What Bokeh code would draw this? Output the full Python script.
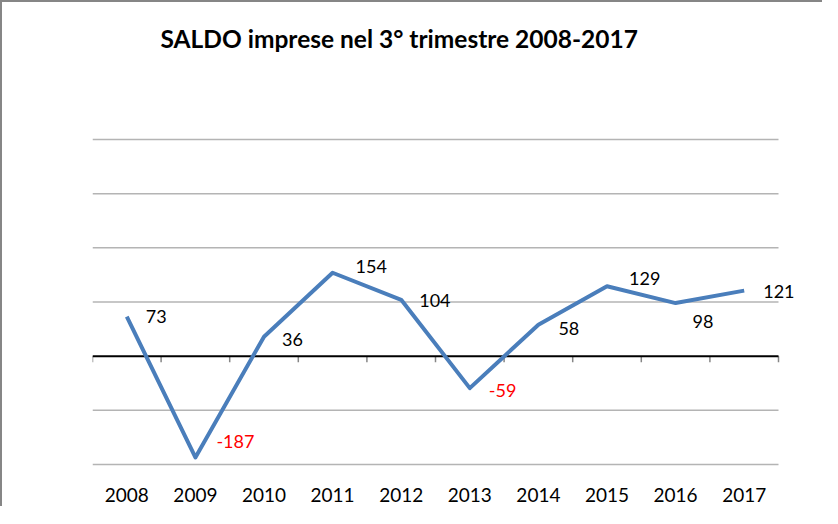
from bokeh.plotting import figure
from bokeh.models import Range1d, FixedTicker, ColumnDataSource, LabelSet, Label
from bokeh.core.properties import value
from bokeh.embed import file_html
from bokeh.resources import INLINE

# ---- data ----
years = ["2008", "2009", "2010", "2011", "2012", "2013", "2014", "2015", "2016", "2017"]
saldo = [73, -187, 36, 154, 104, -59, 58, 129, 98, 121]
grid_values = [-200, -100, 100, 200, 300, 400]

# label placement (pixels; positive dy = up)
label_dx = [19, 21, 18, 23, 18, 19, 20, 22, 17, 19]
label_dy = [0, 16, -3, 6, -1, -2, -4, 8, -18, -1]

FONT = "Lato"
n = len(years)
xs = [i + 0.5 for i in range(n)]

src = ColumnDataSource(dict(
    x=xs, y=saldo,
    label=[str(v) for v in saldo],
    color=["#ff0000" if v < 0 else "#000000" for v in saldo],
    dx=label_dx, dy=label_dy,
))

# layout (pixels)
W, H = 822, 506
ML, MB = 90, 42
plot_w = 686               # width of the category area
px_per_cat = plot_w / n
frame_h = H - MB
px_per_unit = 325 / 600    # vertical scale
top_pad = 137              # pixels between canvas top and the 400 gridline
x_end = n + (W - ML - plot_w) / px_per_cat
y_top = 400 + top_pad / px_per_unit
y_bot = y_top - frame_h / px_per_unit

p = figure(width=W, height=H, x_range=Range1d(0, x_end), y_range=Range1d(y_bot, y_top),
           output_backend="svg", toolbar_location=None, title=None,
           min_border_left=ML, min_border_right=0, min_border_top=0, min_border_bottom=MB)
p.styles = {"border-left": "2px solid #868686", "border-top": "2px solid #868686"}
p.background_fill_color = "white"
p.border_fill_color = "white"
p.outline_line_color = None

# grid (drawn over the category area only)
p.xgrid.visible = False
p.ygrid.visible = False
p.segment(x0=[0] * len(grid_values), x1=[n] * len(grid_values), y0=grid_values, y1=grid_values,
          line_color="#b4b4b4", line_width=1.5)

# y axis hidden
p.yaxis.visible = False

# x axis: labels only
p.xaxis.ticker = FixedTicker(ticks=xs)
p.xaxis.major_label_overrides = {x: y for x, y in zip(xs, years)}
p.xaxis.axis_line_color = None
p.xaxis.major_tick_line_color = None
p.xaxis.minor_tick_line_color = None
p.xaxis.major_label_text_font = FONT
p.xaxis.major_label_text_font_size = "19px"
p.xaxis.major_label_text_color = "#000000"
p.xaxis.major_label_standoff = 15

# zero line with category-boundary ticks
tick_len = 6 / px_per_unit
p.segment(x0=list(range(n + 1)), x1=list(range(n + 1)), y0=0, y1=-tick_len,
          line_color="#868686", line_width=1.5)
p.segment(x0=[0], x1=[n], y0=[0], y1=[0], line_color="#000000", line_width=2)

# series
p.line(x="x", y="y", source=src, line_color="#4a7ebb", line_width=4, line_join="round")

# data labels
p.add_layout(LabelSet(x="x", y="y", text="label", source=src, x_offset="dx", y_offset="dy",
                      text_color="color", text_font=value(FONT), text_font_size="18px",
                      text_align="left", text_baseline="middle"))

# title
p.add_layout(Label(x=68, y=frame_h - 36, x_units="screen", y_units="screen",
                   text="SALDO imprese nel 3° trimestre 2008-2017",
                   text_font=FONT, text_font_size="24.5px", text_font_style="bold",
                   text_color="#000000", text_align="left", text_baseline="middle"))

open("out.html", "w").write(file_html(p, INLINE))
